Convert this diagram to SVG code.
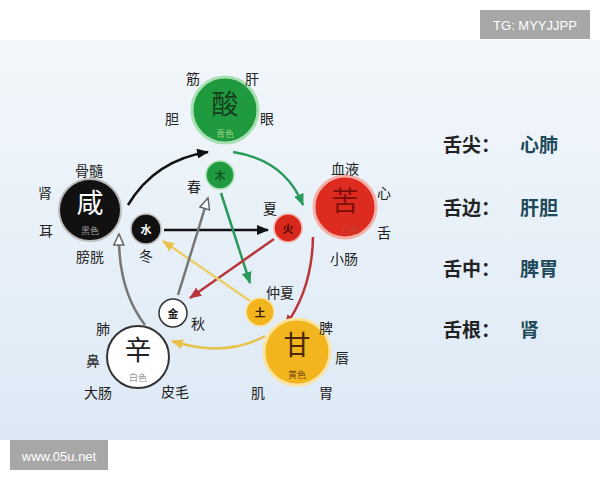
<svg xmlns="http://www.w3.org/2000/svg" width="600" height="480" viewBox="0 0 600 480">
<defs>
<linearGradient id="bg" x1="0" y1="0" x2="0" y2="1">
<stop offset="0" stop-color="#f3f7fb"/>
<stop offset="1" stop-color="#dce9f5"/>
</linearGradient>
<marker id="mBlack" markerWidth="12" markerHeight="10" refX="11" refY="5" orient="auto" markerUnits="userSpaceOnUse"><path d="M0,0 L12,5 L0,10 Z" fill="#111"/></marker>
<marker id="mGreen" markerWidth="12" markerHeight="10" refX="11" refY="5" orient="auto" markerUnits="userSpaceOnUse"><path d="M0,0 L12,5 L0,10 Z" fill="#2a9a5a"/></marker>
<marker id="mRed" markerWidth="12" markerHeight="10" refX="11" refY="5" orient="auto" markerUnits="userSpaceOnUse"><path d="M0,0 L12,5 L0,10 Z" fill="#b8363a"/></marker>
<marker id="mYellow" markerWidth="12" markerHeight="10" refX="11" refY="5" orient="auto" markerUnits="userSpaceOnUse"><path d="M0,0 L12,5 L0,10 Z" fill="#e8c24a"/></marker>
<marker id="mGray" markerWidth="14" markerHeight="12" refX="12" refY="6" orient="auto" markerUnits="userSpaceOnUse"><path d="M1,1 L12,6 L1,11 Z" fill="#fff" stroke="#666" stroke-width="1.5"/></marker>
</defs>
<style>
.t{font-family:"Noto Sans CJK SC","Noto Sans CJK JP",sans-serif;fill:#222;text-anchor:middle;dominant-baseline:central}
.lab{font-size:14px}
.big{font-size:27px}
.sub{font-size:9px}
.sm{font-size:11px;font-weight:bold}
.r{font-size:19px;text-anchor:start;font-weight:bold}
.rv{fill:#1e4a5a}
.c{fill:none;stroke-width:2.5}
.badge{font-family:"Liberation Sans",Arial,sans-serif;fill:#fff;font-size:13px;text-anchor:middle;dominant-baseline:central}
</style>
<rect x="0" y="0" width="600" height="480" fill="#fff"/>
<rect x="0" y="40" width="600" height="400" fill="url(#bg)"/>
<rect x="480" y="10" width="110" height="29" fill="#a7a7a7"/>
<text class="badge" x="535" y="25">TG: MYYJJPP</text>
<rect x="10" y="440" width="98" height="30" fill="#a7a7a7"/>
<text class="badge" x="59" y="456">www.05u.net</text>

<g id="connectors">
<path class="c" d="M128,205 Q155,160 208,152" stroke="#111" marker-end="url(#mBlack)"/>
<path class="c" d="M233,152 Q285,160 303,205" stroke="#2a9a5a" marker-end="url(#mGreen)"/>
<path class="c" d="M313,237 Q312,290 285,326" stroke="#b8363a" marker-end="url(#mRed)"/>
<path class="c" d="M265,336 Q225,358 172,341" stroke="#e8c24a" marker-end="url(#mYellow)"/>
<path class="c" d="M145,325 Q118,290 119,234" stroke="#777" marker-end="url(#mGray)"/>
<path class="c" d="M164,230 L268,230" stroke="#111" marker-end="url(#mBlack)"/>
<path class="c" d="M221,193 L250,283" stroke="#2a9a5a" marker-end="url(#mGreen)"/>
<path class="c" d="M274,239 L190,298" stroke="#b8363a" marker-end="url(#mRed)"/>
<path class="c" d="M250,301 L163,241" stroke="#eccf6a" marker-end="url(#mYellow)"/>
<path class="c" d="M178,295 L208,198" stroke="#777" marker-end="url(#mGray)"/>
</g>

<g id="suan">
<circle cx="225" cy="110" r="33" fill="#1f9a3e" stroke="#a8e0b4" stroke-width="3"/>
<text class="t big" x="225" y="102" style="fill:#163f20">酸</text>
<text class="t sub" x="225" y="133" style="fill:#9ad08a">青色</text>
<text class="t lab" x="193" y="78">筋</text>
<text class="t lab" x="252" y="78">肝</text>
<text class="t lab" x="172" y="118">胆</text>
<text class="t lab" x="267" y="118">眼</text>
</g>
<g id="ku">
<circle cx="345" cy="207" r="31" fill="#dd2b1f" stroke="#f3b0a8" stroke-width="3"/>
<text class="t big" x="345" y="199" style="fill:#7a0e0a">苦</text>
<text class="t sub" x="350" y="229" style="fill:#c8402e">红色</text>
<text class="t lab" x="345" y="168">血液</text>
<text class="t lab" x="384" y="192">心</text>
<text class="t lab" x="384" y="232">舌</text>
<text class="t lab" x="344" y="258">小肠</text>
</g>
<g id="gan">
<circle cx="297" cy="352" r="33" fill="#f2b51e" stroke="#fbe3a0" stroke-width="3"/>
<text class="t big" x="297" y="343" style="fill:#4a2808">甘</text>
<text class="t sub" x="297" y="374" style="fill:#7a4a10">黄色</text>
<text class="t lab" x="326" y="327">脾</text>
<text class="t lab" x="342" y="357">唇</text>
<text class="t lab" x="326" y="392">胃</text>
<text class="t lab" x="258" y="392">肌</text>
</g>
<g id="xin">
<circle cx="138" cy="357" r="31" fill="#fff" stroke="#333" stroke-width="2"/>
<text class="t big" x="138" y="348">辛</text>
<text class="t sub" x="138" y="377" style="fill:#999">白色</text>
<text class="t lab" x="103" y="328">肺</text>
<text class="t lab" x="93" y="360">鼻</text>
<text class="t lab" x="98" y="392">大肠</text>
<text class="t lab" x="175" y="391">皮毛</text>
</g>
<g id="xian">
<circle cx="90" cy="210" r="31" fill="#111" stroke="#bbb" stroke-width="2"/>
<text class="t big" x="90" y="201" style="fill:#fff">咸</text>
<text class="t sub" x="90" y="230" style="fill:#999">黑色</text>
<text class="t lab" x="89" y="170">骨髓</text>
<text class="t lab" x="45" y="192">肾</text>
<text class="t lab" x="46" y="230">耳</text>
<text class="t lab" x="90" y="256">膀胱</text>
</g>

<g id="mu">
<circle cx="220" cy="175" r="14" fill="#1f9a3e" stroke="#a8e0b4" stroke-width="1.5"/>
<text class="t sm" x="220" y="175" style="fill:#155a25">木</text>
<text class="t lab" x="194" y="186">春</text>
</g>
<g id="huo">
<circle cx="288" cy="228" r="14" fill="#d8271c" stroke="#f3b0a8" stroke-width="1.5"/>
<text class="t sm" x="288" y="228" style="fill:#4a0a05">火</text>
<text class="t lab" x="270" y="208">夏</text>
</g>
<g id="tu">
<circle cx="260" cy="312" r="14" fill="#f2b51e" stroke="#fbe3a0" stroke-width="1.5"/>
<text class="t sm" x="260" y="312" style="fill:#3a2000">土</text>
<text class="t lab" x="280" y="292">仲夏</text>
</g>
<g id="jin">
<circle cx="173" cy="313" r="14" fill="#fff" stroke="#333" stroke-width="1.5"/>
<text class="t sm" x="173" y="313">金</text>
<text class="t lab" x="198" y="323">秋</text>
</g>
<g id="shui">
<circle cx="146" cy="229" r="15" fill="#111" stroke="#bbb" stroke-width="1.5"/>
<text class="t sm" x="146" y="229" style="fill:#fff">水</text>
<text class="t lab" x="146" y="255">冬</text>
</g>

<g id="tongue">
<text class="t r" x="443" y="143">舌尖：</text><text class="t r rv" x="520" y="143">心肺</text>
<text class="t r" x="443" y="206">舌边：</text><text class="t r rv" x="520" y="206">肝胆</text>
<text class="t r" x="443" y="267">舌中：</text><text class="t r rv" x="520" y="267">脾胃</text>
<text class="t r" x="443" y="328">舌根：</text><text class="t r rv" x="520" y="328">肾</text>
</g>
</svg>
